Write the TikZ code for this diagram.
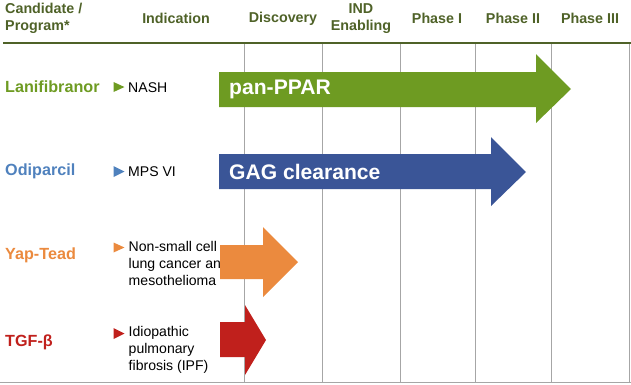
\documentclass[tikz,border=0pt]{standalone}
\usepackage{fontspec}
\setmainfont{Liberation Sans}
\usetikzlibrary{calc}

\definecolor{headgreen}{HTML}{4F6228}
\definecolor{lanigreen}{HTML}{6E9B22}
\definecolor{odiblue}{HTML}{4F81BD}
\definecolor{gagblue}{HTML}{3A5597}
\definecolor{yaporange}{HTML}{EB8A3E}
\definecolor{tgfred}{HTML}{C0201C}
\definecolor{gridgray}{HTML}{A6A6A6}

\begin{document}
\begin{tikzpicture}[x=0.03cm, y=-0.03cm,
    head/.style={font=\bfseries\fontsize{12.2}{14.5}\selectfont, text=headgreen, align=center, inner sep=0pt},
    cand/.style={font=\bfseries\fontsize{13.8}{16}\selectfont, anchor=west, inner sep=0pt},
    indic/.style={font=\fontsize{12}{14.5}\selectfont, anchor=west, align=left, inner sep=0pt},
    bartext/.style={font=\bfseries\fontsize{18}{20}\selectfont, text=white, anchor=west, inner sep=0pt},
    gridline/.style={draw=gridgray, line width=0.8pt}]
    \useasboundingbox (0,0) rectangle (631,384);

    % column headers
        \node[head, anchor=west, align=left] (cand) at (5,18.5) {Candidate /\\Program*};
        \node[head] (indic) at (176,18.5) {Indication};
        \node[head] (disc) at (283,18.5) {Discovery};
        \node[head] (ind) at (361,18.5) {IND\\Enabling};
        \node[head] (ph1) at (437,18.5) {Phase I};
        \node[head] (ph2) at (513,18.5) {Phase II};
        \node[head] (ph3) at (590,18.5) {Phase III};

    % grid
        \foreach \x in {244,322,400,475,551,629}
            \draw[gridline] (\x,43) -- (\x,382);
        \draw[gridline] (0,382) -- (631,382);
        \draw[headgreen, line width=2.2pt] (3,43) -- (631,43);

    % candidates
        \node[cand, text=lanigreen] (lani) at (5,87) {Lanifibranor};
        \node[cand, text=odiblue] (odi) at (5,171) {Odiparcil};
        \node[cand, text=yaporange] (yap) at (5,255) {Yap-Tead};
        \node[cand, text=tgfred] (tgf) at (5,342) {TGF-β};

    % indications
        \fill[lanigreen] (113.5,82) -- (124.5,87) -- (113.5,92) -- cycle;
        \node[indic] (nash) at (128,87.5) {NASH};
        \fill[odiblue] (113.5,166) -- (124.5,171.5) -- (113.5,177) -- cycle;
        \node[indic] (mps) at (128,171.5) {MPS VI};
        \fill[yaporange] (113.5,242.5) -- (124.5,247.5) -- (113.5,252.5) -- cycle;
        \node[indic, anchor=north west] (nsclc) at (128.5,241.5) {Non-small cell\\lung cancer and\\mesothelioma};
        \fill[tgfred] (113.5,328) -- (124.5,333.5) -- (113.5,339) -- cycle;
        \node[indic, anchor=north west] (ipf) at (128.5,326.5) {Idiopathic\\pulmonary\\fibrosis (IPF)};

    % progress arrows
        \fill[lanigreen] (219,72) -- (536,72) -- (536,54) -- (571,89) -- (536,123) -- (536,107) -- (219,107) -- cycle;
        \node[bartext] (ppar) at (229,89.5) {pan-PPAR};
        \fill[gagblue] (219,154) -- (491,154) -- (491,137) -- (526,172) -- (491,206) -- (491,189) -- (219,189) -- cycle;
        \node[bartext] (gag) at (229,172) {GAG clearance};
        \fill[yaporange] (220,245) -- (263,245) -- (263,227) -- (298,262) -- (263,297) -- (263,279) -- (220,279) -- cycle;
        \fill[tgfred] (220,322) -- (245,322) -- (245,305) -- (266,340) -- (245,375) -- (245,357) -- (220,357) -- cycle;

\end{tikzpicture}
\end{document}
